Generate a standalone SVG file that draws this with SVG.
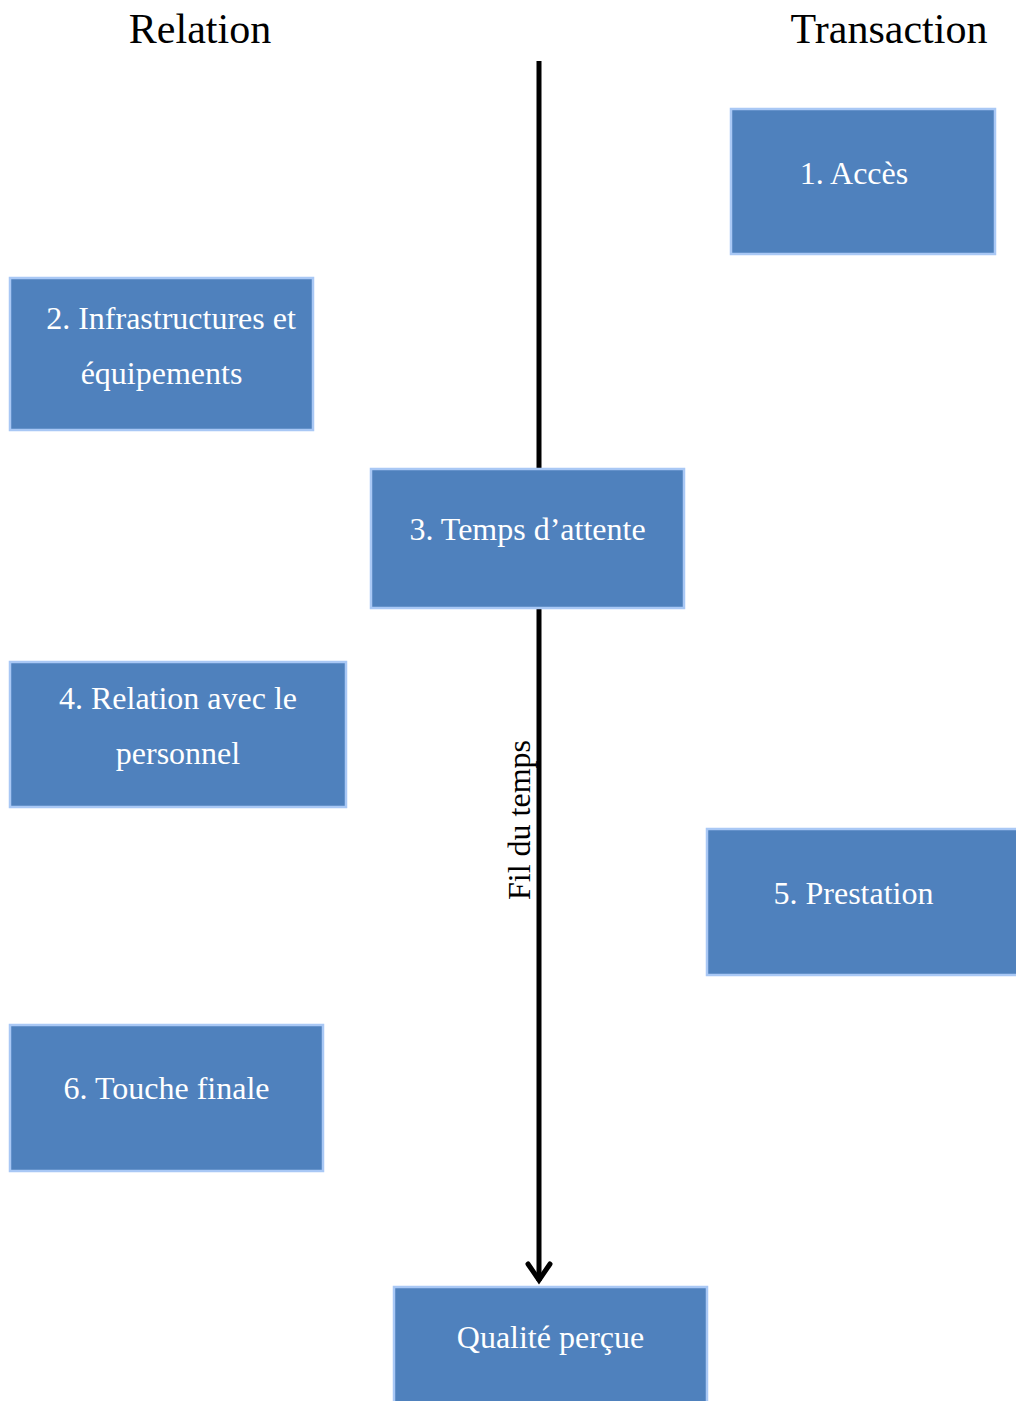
<svg xmlns="http://www.w3.org/2000/svg" width="1016" height="1401" viewBox="0 0 1016 1401">
  <style>
    .box { fill: #4F81BD; stroke: #A9C8F5; stroke-width: 2.5; }
    .lbl { font-family: "Liberation Serif", "Times New Roman", serif; font-size: 32px; fill: #FFFFFF; text-anchor: middle; }
    .head { font-family: "Liberation Serif", "Times New Roman", serif; font-size: 42px; fill: #000000; text-anchor: middle; }
    .axis { font-family: "Liberation Serif", "Times New Roman", serif; font-size: 32px; fill: #000000; text-anchor: middle; }
    .line { stroke: #000000; stroke-width: 5; fill: none; }
  </style>
  <rect width="1016" height="1401" fill="#FFFFFF"/>

  <text class="head" x="200" y="43">Relation</text>
  <text class="head" x="889" y="43">Transaction</text>

  <g id="connectors">
    <line class="line" x1="539" y1="61" x2="539" y2="1281"/>
    <polyline class="line" points="528,1264 539,1280 550,1264" stroke-linecap="round" stroke-linejoin="miter"/>
  </g>

  <text class="axis" transform="translate(530,820) rotate(-90)" x="0" y="0">Fil du temps</text>

  <g id="n1">
    <rect class="box" x="731" y="109" width="264" height="145"/>
    <text class="lbl" x="854" y="184">1. Accès</text>
  </g>
  <g id="n2">
    <rect class="box" x="10" y="278" width="303" height="152"/>
    <text class="lbl" x="171" y="329">2. Infrastructures et</text>
    <text class="lbl" x="161.5" y="384">équipements</text>
  </g>
  <g id="n3">
    <rect class="box" x="371" y="469" width="313" height="139"/>
    <text class="lbl" x="527.5" y="540">3. Temps d’attente</text>
  </g>
  <g id="n4">
    <rect class="box" x="10" y="662" width="336" height="145"/>
    <text class="lbl" x="178" y="709">4. Relation avec le</text>
    <text class="lbl" x="178" y="764">personnel</text>
  </g>
  <g id="n5">
    <rect class="box" x="707" y="829" width="320" height="146"/>
    <text class="lbl" x="853.5" y="904">5. Prestation</text>
  </g>
  <g id="n6">
    <rect class="box" x="10" y="1025" width="313" height="146"/>
    <text class="lbl" x="166.5" y="1099">6. Touche finale</text>
  </g>
  <g id="n7">
    <rect class="box" x="394" y="1287" width="313" height="130"/>
    <text class="lbl" x="550.5" y="1348">Qualité perçue</text>
  </g>
</svg>
